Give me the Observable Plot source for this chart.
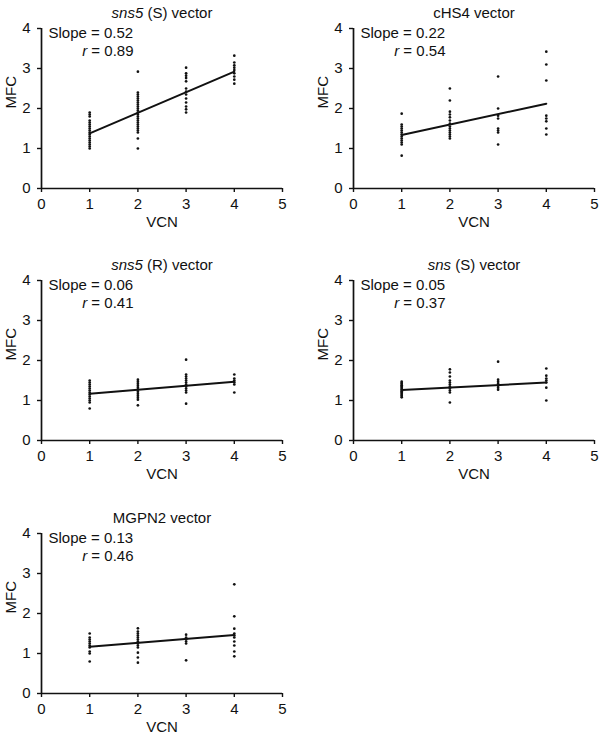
<!DOCTYPE html>
<html><head><meta charset="utf-8">
<script src="https://cdn.jsdelivr.net/npm/d3@7"></script>
<script src="https://cdn.jsdelivr.net/npm/@observablehq/plot@0.6"></script>
<style>
body{margin:0;background:#fff;}
#chart{position:relative;width:600px;height:737px;font-family:"Liberation Sans",Arial,Helvetica,sans-serif;}
#chart svg{position:absolute;overflow:visible;}
</style></head><body><div id="chart"></div>
<script>
// ---- data ----
const xDomain = [0, 5];
const yDomain = [0, 4];
const xTicks = [0, 1, 2, 3, 4, 5];
const yTicks = [0, 1, 2, 3, 4];
const fitX = [1, 4];
const titles = ["*sns5* (S) vector", "cHS4 vector", "*sns5* (R) vector", "*sns* (S) vector", "MGPN2 vector"];
const slopes = ["0.52", "0.22", "0.06", "0.05", "0.13"];
const rValues = ["0.89", "0.54", "0.41", "0.37", "0.46"];

// sns5 (S) vector
const sns5S_vcn1 = [1.0, 1.05, 1.1, 1.15, 1.2, 1.25, 1.3, 1.35, 1.4, 1.45, 1.5, 1.55, 1.6, 1.65, 1.7, 1.8, 1.85, 1.9];
const sns5S_vcn2 = [2.92, 2.4, 2.35, 2.3, 2.25, 2.2, 2.15, 2.1, 2.05, 2.0, 1.95, 1.9, 1.85, 1.8, 1.75, 1.7, 1.65, 1.6, 1.55, 1.5, 1.45, 1.4, 1.25, 1.0];
const sns5S_vcn3 = [3.02, 2.88, 2.82, 2.76, 2.68, 2.5, 2.42, 2.35, 2.25, 2.15, 2.05, 1.98, 1.9];
const sns5S_vcn4 = [3.32, 3.15, 3.08, 3.02, 2.96, 2.88, 2.8, 2.72, 2.62];
const sns5S_fit = [1.38, 2.92];

// cHS4 vector
const cHS4_vcn1 = [1.87, 1.6, 1.55, 1.5, 1.45, 1.4, 1.35, 1.3, 1.25, 1.2, 1.15, 1.1, 0.82];
const cHS4_vcn2 = [2.5, 2.2, 1.92, 1.85, 1.78, 1.7, 1.62, 1.55, 1.5, 1.45, 1.4, 1.35, 1.3, 1.25];
const cHS4_vcn3 = [2.8, 2.0, 1.82, 1.75, 1.5, 1.45, 1.4, 1.1];
const cHS4_vcn4 = [3.42, 3.1, 2.7, 1.82, 1.75, 1.68, 1.5, 1.35];
const cHS4_fit = [1.34, 2.12];

// sns5 (R) vector
const sns5R_vcn1 = [1.5, 1.45, 1.4, 1.35, 1.3, 1.25, 1.2, 1.15, 1.1, 1.05, 1.0, 0.95, 0.8];
const sns5R_vcn2 = [1.52, 1.47, 1.42, 1.37, 1.32, 1.27, 1.22, 1.17, 1.12, 1.07, 1.02, 0.88];
const sns5R_vcn3 = [2.02, 1.65, 1.6, 1.55, 1.5, 1.45, 1.4, 1.35, 1.3, 1.25, 1.2, 0.92];
const sns5R_vcn4 = [1.65, 1.55, 1.5, 1.45, 1.4, 1.2];
const sns5R_fit = [1.17, 1.47];

// sns (S) vector
const snsS_vcn1 = [1.47, 1.44, 1.41, 1.38, 1.35, 1.32, 1.29, 1.26, 1.23, 1.2, 1.17, 1.14, 1.11, 1.08];
const snsS_vcn2 = [1.78, 1.7, 1.6, 1.5, 1.45, 1.4, 1.35, 1.3, 1.25, 1.2, 0.95];
const snsS_vcn3 = [1.97, 1.52, 1.47, 1.42, 1.37, 1.32, 1.27];
const snsS_vcn4 = [1.8, 1.62, 1.55, 1.5, 1.45, 1.32, 1.0];
const snsS_fit = [1.26, 1.45];

// MGPN2 vector
const mgpn2_vcn1 = [1.5, 1.4, 1.35, 1.3, 1.25, 1.2, 1.15, 1.05, 1.0, 0.8];
const mgpn2_vcn2 = [1.63, 1.55, 1.5, 1.45, 1.4, 1.35, 1.3, 1.25, 1.2, 1.15, 1.02, 0.9, 0.77];
const mgpn2_vcn3 = [1.47, 1.4, 1.35, 1.3, 1.25, 0.83];
const mgpn2_vcn4 = [2.73, 1.93, 1.62, 1.5, 1.45, 1.4, 1.3, 1.2, 1.05, 0.93];
const mgpn2_fit = [1.17, 1.46];

// ---- layout ----
const series = [
  [sns5S_vcn1, sns5S_vcn2, sns5S_vcn3, sns5S_vcn4, sns5S_fit],
  [cHS4_vcn1, cHS4_vcn2, cHS4_vcn3, cHS4_vcn4, cHS4_fit],
  [sns5R_vcn1, sns5R_vcn2, sns5R_vcn3, sns5R_vcn4, sns5R_fit],
  [snsS_vcn1, snsS_vcn2, snsS_vcn3, snsS_vcn4, snsS_fit],
  [mgpn2_vcn1, mgpn2_vcn2, mgpn2_vcn3, mgpn2_vcn4, mgpn2_fit]
];
const layout = [
  {left: 0, top: 0, ml: 41, mr: 18},
  {left: 300, top: 0, ml: 53, mr: 6},
  {left: 0, top: 252, ml: 41, mr: 18},
  {left: 300, top: 252, ml: 53, mr: 6},
  {left: 0, top: 505, ml: 41, mr: 18}
];
const FONT = '"Liberation Sans", Arial, Helvetica, sans-serif';
const FS = 15;
const intFmt = d => String(Math.round(d));

function italicize(svg) {
  d3.select(svg).selectAll("text").each(function () {
    const t = this.textContent;
    if (!t.includes("*")) return;
    const parts = t.split("*");
    const sel = d3.select(this);
    sel.text(null);
    parts.forEach((p, i) => {
      if (!p) return;
      const ts = sel.append("tspan").text(p);
      if (i % 2 === 1) ts.attr("font-style", "italic");
    });
  });
}

const chart = document.getElementById("chart");
series.forEach((s, k) => {
  const L = layout[k];
  const pts = [];
  for (let v = 0; v < 4; v++) s[v].forEach(m => pts.push({vcn: v + 1, mfc: m}));
  const fit = fitX.map((x, i) => ({vcn: x, mfc: s[4][i]}));
  const svg = Plot.plot({
    width: 300,
    height: 232,
    marginTop: 28,
    marginBottom: 44,
    marginLeft: L.ml,
    marginRight: L.mr,
    style: {fontFamily: FONT, fontSize: FS + "px", color: "#111", background: "transparent"},
    x: {domain: xDomain},
    y: {domain: yDomain},
    marks: [
      Plot.axisX({ticks: xTicks, tickFormat: intFmt, tickSize: 4, tickPadding: 6, fontSize: FS, label: null, strokeWidth: 1.4}),
      Plot.axisY({ticks: yTicks, tickFormat: intFmt, tickSize: 4, tickPadding: 7, fontSize: FS, label: null, strokeWidth: 1.4}),
      Plot.ruleY([yDomain[0]], {x1: xDomain[0], x2: xDomain[1], stroke: "#111", strokeWidth: 1.7}),
      Plot.ruleX([xDomain[0]], {y1: yDomain[0], y2: yDomain[1], stroke: "#111", strokeWidth: 1.7}),
      Plot.dot(pts, {x: "vcn", y: "mfc", r: 1.35, fill: "#111", stroke: "none"}),
      Plot.line(fit, {x: "vcn", y: "mfc", stroke: "#111", strokeWidth: 2}),
      Plot.text([titles[k]], {frameAnchor: "top", lineAnchor: "bottom", dy: -11, fontSize: FS, fill: "#111"}),
      Plot.text(["Slope = " + slopes[k]], {frameAnchor: "top-left", textAnchor: "start", lineAnchor: "bottom", dx: 7, dy: 9, fontSize: FS, fill: "#111"}),
      Plot.text(["*r* = " + rValues[k]], {frameAnchor: "top-left", textAnchor: "end", lineAnchor: "bottom", dx: 92, dy: 27, fontSize: FS, fill: "#111"}),
      Plot.text(["VCN"], {frameAnchor: "bottom", lineAnchor: "bottom", dy: 38, fontSize: FS, fill: "#111"}),
      Plot.text(["MFC"], {frameAnchor: "left", lineAnchor: "bottom", rotate: -90, dx: -26, fontSize: FS, fill: "#111"})
    ]
  });
  italicize(svg);
  svg.style.left = L.left + "px";
  svg.style.top = L.top + "px";
  chart.appendChild(svg);
});
</script></body></html>
